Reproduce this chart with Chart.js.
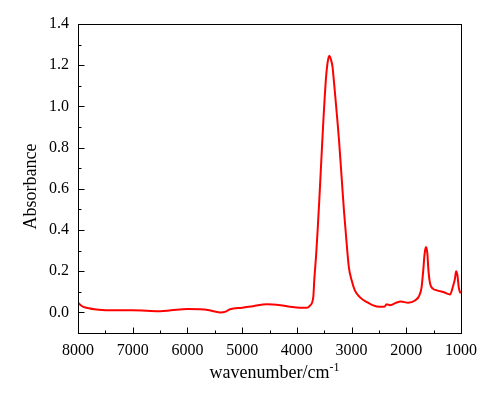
<!DOCTYPE html>
<html>
<head>
<meta charset="utf-8">
<script src="https://cdn.jsdelivr.net/npm/chart.js@4.4.1/dist/chart.umd.min.js"></script>
<style>
html,body{margin:0;padding:0;background:#fff;}
canvas{display:block;}
</style>
</head>
<body>
<canvas id="c" width="494" height="394"></canvas>
<script>
const wavenumbers = [8000,7950,7900,7800,7700,7500,7250,7000,6750,6500,6300,6000,5770,5600,5500,5400,5300,5220,5000,4800,4550,4300,4120,3940,3820,3760,3700,3680,3650,3620,3590,3565,3540,3515,3490,3465,3435,3405,3380,3350,3320,3290,3260,3230,3200,3170,3140,3110,3080,3050,3000,2940,2850,2720,2540,2400,2360,2300,2200,2100,1965,1840,1760,1720,1690,1665,1640,1615,1595,1565,1515,1440,1320,1200,1150,1110,1090,1065,1040,1015,1000];
const absorbance = [0.047,0.035,0.027,0.020,0.015,0.011,0.010,0.010,0.008,0.006,0.010,0.016,0.015,0.010,0.004,0.000,0.004,0.015,0.023,0.030,0.040,0.035,0.027,0.022,0.022,0.033,0.074,0.164,0.270,0.400,0.545,0.675,0.805,0.934,1.048,1.146,1.219,1.246,1.230,1.195,1.114,1.025,0.934,0.837,0.725,0.610,0.497,0.400,0.303,0.220,0.157,0.107,0.074,0.050,0.029,0.028,0.040,0.035,0.045,0.053,0.047,0.058,0.083,0.123,0.204,0.285,0.317,0.285,0.204,0.140,0.115,0.107,0.099,0.087,0.123,0.164,0.200,0.180,0.120,0.097,0.095];
const xTicks = [8000,7000,6000,5000,4000,3000,2000,1000];
const xMinorTicks = [7500,6500,5500,4500,3500,2500,1500];
const yTicks = [0,0.2,0.4,0.6,0.8,1.0,1.2,1.4];
const yMinorTicks = [0.1,0.3,0.5,0.7,0.9,1.1,1.3];
const xTitle = "wavenumber/cm";
const xTitleSup = "-1";
const yTitle = "Absorbance";

const points = wavenumbers.map((w,i)=>({x:w,y:absorbance[i]}));
const FONT = "'Liberation Serif','Times New Roman',serif";

const framePlugin = {
  id:'frame',
  afterDraw(chart){
    const ctx = chart.ctx, a = chart.chartArea;
    const xs = chart.scales.x, ys = chart.scales.y;
    ctx.save();
    ctx.strokeStyle = '#000';
    ctx.lineWidth = 1;
    ctx.strokeRect(Math.round(a.left)+0.5, Math.round(a.top)+0.5, Math.round(a.right-a.left), Math.round(a.bottom-a.top));
    ctx.beginPath();
    const bx = Math.round(a.bottom)+0.5, lx = Math.round(a.left)+0.5;
    xTicks.forEach(v=>{const p=Math.round(xs.getPixelForValue(v))+0.5; ctx.moveTo(p,bx); ctx.lineTo(p,bx-6);});
    xMinorTicks.forEach(v=>{const p=Math.round(xs.getPixelForValue(v))+0.5; ctx.moveTo(p,bx); ctx.lineTo(p,bx-3);});
    yTicks.forEach(v=>{const p=Math.round(ys.getPixelForValue(v))+0.5; ctx.moveTo(lx,p); ctx.lineTo(lx+6,p);});
    yMinorTicks.forEach(v=>{const p=Math.round(ys.getPixelForValue(v))+0.5; ctx.moveTo(lx,p); ctx.lineTo(lx+3,p);});
    ctx.stroke();
    // y title
    ctx.fillStyle = '#000';
    ctx.font = "18px " + FONT;
    ctx.textAlign = 'center';
    ctx.textBaseline = 'middle';
    ctx.save();
    ctx.translate(31, (a.top+a.bottom)/2 + 8);
    ctx.rotate(-Math.PI/2);
    ctx.fillText(yTitle, 0, 0);
    ctx.restore();
    // x title with superscript
    ctx.textBaseline = 'alphabetic';
    ctx.textAlign = 'left';
    ctx.font = "18px " + FONT;
    const w1 = ctx.measureText(xTitle).width;
    ctx.font = "12px " + FONT;
    const w2 = ctx.measureText(xTitleSup).width;
    const cx = (a.left+a.right)/2 + 5;
    const sx = cx - (w1+w2)/2;
    ctx.font = "18px " + FONT;
    ctx.fillText(xTitle, sx, 378);
    ctx.font = "12px " + FONT;
    ctx.fillText(xTitleSup, sx+w1, 371);
    ctx.restore();
  }
};

new Chart(document.getElementById('c'), {
  type:'line',
  data:{datasets:[{data:points,borderColor:'#ff0000',borderWidth:2,pointRadius:0,cubicInterpolationMode:'monotone',fill:false}]},
  options:{
    responsive:false,
    animation:false,
    events:[],
    layout:{padding:{left:0,top:24,right:33,bottom:0}},
    plugins:{legend:{display:false},tooltip:{enabled:false}},
    scales:{
      x:{
        type:'linear', reverse:true, min:1000, max:8000,
        grid:{display:false, drawTicks:false}, border:{display:false},
        afterBuildTicks(s){ s.ticks = xTicks.map(v=>({value:v})); },
        afterFit(s){ s.height = 61; },
        ticks:{color:'#000', font:{family:FONT,size:16}, padding:8, maxRotation:0, autoSkip:false, callback:v=>String(v)}
      },
      y:{
        type:'linear', min:-0.1, max:1.4,
        grid:{display:false, drawTicks:false}, border:{display:false},
        afterBuildTicks(s){ s.ticks = yTicks.map(v=>({value:v})); },
        afterFit(s){ s.width = 78; },
        ticks:{color:'#000', font:{family:FONT,size:16}, padding:9, autoSkip:false, callback:v=>Number(v).toFixed(1)}
      }
    }
  },
  plugins:[framePlugin]
});
</script>
</body>
</html>
